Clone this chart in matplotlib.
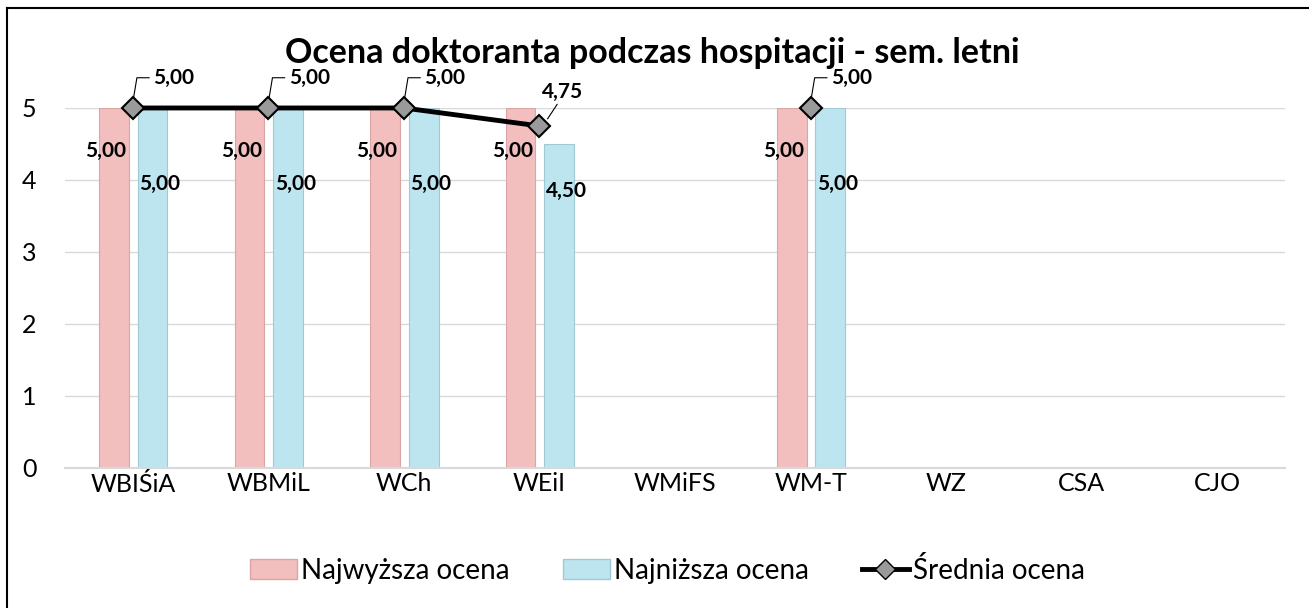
import numpy as np
import matplotlib.pyplot as plt
from matplotlib.patches import Patch
from matplotlib.lines import Line2D

plt.rcParams['font.family'] = ['Lato', 'DejaVu Sans']

# data
categories = ['WBIŚiA', 'WBMiL', 'WCh', 'WEiI', 'WMiFS', 'WM-T', 'WZ', 'CSA', 'CJO']
najwyzsza = [5.00, 5.00, 5.00, 5.00, np.nan, 5.00, np.nan, np.nan, np.nan]
najnizsza = [5.00, 5.00, 5.00, 4.50, np.nan, 5.00, np.nan, np.nan, np.nan]
srednia = [5.00, 5.00, 5.00, 4.75, np.nan, 5.00, np.nan, np.nan, np.nan]
title = 'Ocena doktoranta podczas hospitacji - sem. letni'

pink = '#F2BEBE'
blue = '#BCE5F0'

fig = plt.figure(figsize=(13.09, 6.08), dpi=100)
ax = fig.add_axes([0.0497, 0.2303, 0.932, 0.5921])

x = np.arange(len(categories))
w = 0.22
ax.bar(x - 0.14, najwyzsza, w, color=pink, edgecolor='#D9A5A5', linewidth=0.8, zorder=2)
ax.bar(x + 0.145, najnizsza, w, color=blue, edgecolor='#9FC9D4', linewidth=0.8, zorder=2)
ax.plot(x, srednia, color='black', lw=3.5, marker='D', ms=11, mfc='#9A9A9A',
        mec='black', mew=1.5, zorder=4, clip_on=False)

def fmt(v):
    return f'{v:.2f}'.replace('.', ',')

for i in range(len(categories)):
    if not np.isnan(najwyzsza[i]):
        ax.text(x[i] - 0.2, 4.4, fmt(najwyzsza[i]), ha='center', va='center',
                fontsize=15, fontweight='bold', zorder=5)
    if not np.isnan(najnizsza[i]):
        ax.text(x[i] + 0.2, 3.95 - (5 - najnizsza[i]) * 0.2, fmt(najnizsza[i]),
                ha='center', va='center', fontsize=15, fontweight='bold', zorder=5)
    v = srednia[i]
    if np.isnan(v):
        continue
    if v >= 5:
        ax.plot([x[i], x[i] + 0.03, x[i] + 0.12], [v + 0.08, v + 0.42, v + 0.42],
                color='black', lw=0.8, clip_on=False, zorder=3)
        ax.text(x[i] + 0.15, v + 0.42, fmt(v), ha='left', va='center',
                fontsize=15, fontweight='bold')
    else:
        ax.plot([x[i] + 0.06, x[i] + 0.13], [v + 0.1, v + 0.3],
                color='black', lw=0.8, clip_on=False, zorder=3)
        ax.text(x[i] + 0.17, v + 0.47, fmt(v), ha='center', va='center',
                fontsize=15, fontweight='bold')

ax.set_xlim(-0.5, len(categories) - 0.5)
ax.set_ylim(0, 5)
ax.set_yticks(range(6))
ax.set_xticks(x)
ax.set_xticklabels(categories)
ax.tick_params(axis='both', length=0, labelsize=18)
ax.tick_params(axis='x', pad=3)
ax.tick_params(axis='y', pad=31)
for lbl in ax.get_yticklabels():
    lbl.set_horizontalalignment('left')
ax.grid(axis='y', color='#D9D9D9', lw=1, zorder=0)
ax.set_axisbelow(True)
for s in ['top', 'right', 'left']:
    ax.spines[s].set_visible(False)
ax.spines['bottom'].set_color('#D9D9D9')
ax.spines['bottom'].set_linewidth(1.5)

fig.text(0.498, 0.913, title, ha='center', va='center', fontsize=24.5, fontweight='bold')

handles = [Patch(facecolor=pink, edgecolor='#D9A5A5'),
           Patch(facecolor=blue, edgecolor='#9FC9D4'),
           Line2D([], [], color='black', lw=3.5, marker='D', ms=10, mfc='#9A9A9A', mec='black')]
fig.legend(handles, ['Najwyższa ocena', 'Najniższa ocena', 'Średnia ocena'],
           loc='center', bbox_to_anchor=(0.51, 0.062), ncol=3, frameon=False,
           fontsize=20, handlelength=1.7, handletextpad=0.15, columnspacing=1.9)

# chart frame (top and left edges visible)
fig.add_artist(Line2D([0.0053, 0.0053], [0, 0.987], color='black', lw=1.5,
                      transform=fig.transFigure))
fig.add_artist(Line2D([0.0053, 1], [0.987, 0.987], color='black', lw=1.5,
                      transform=fig.transFigure))

fig.savefig('out.png', dpi=100)
